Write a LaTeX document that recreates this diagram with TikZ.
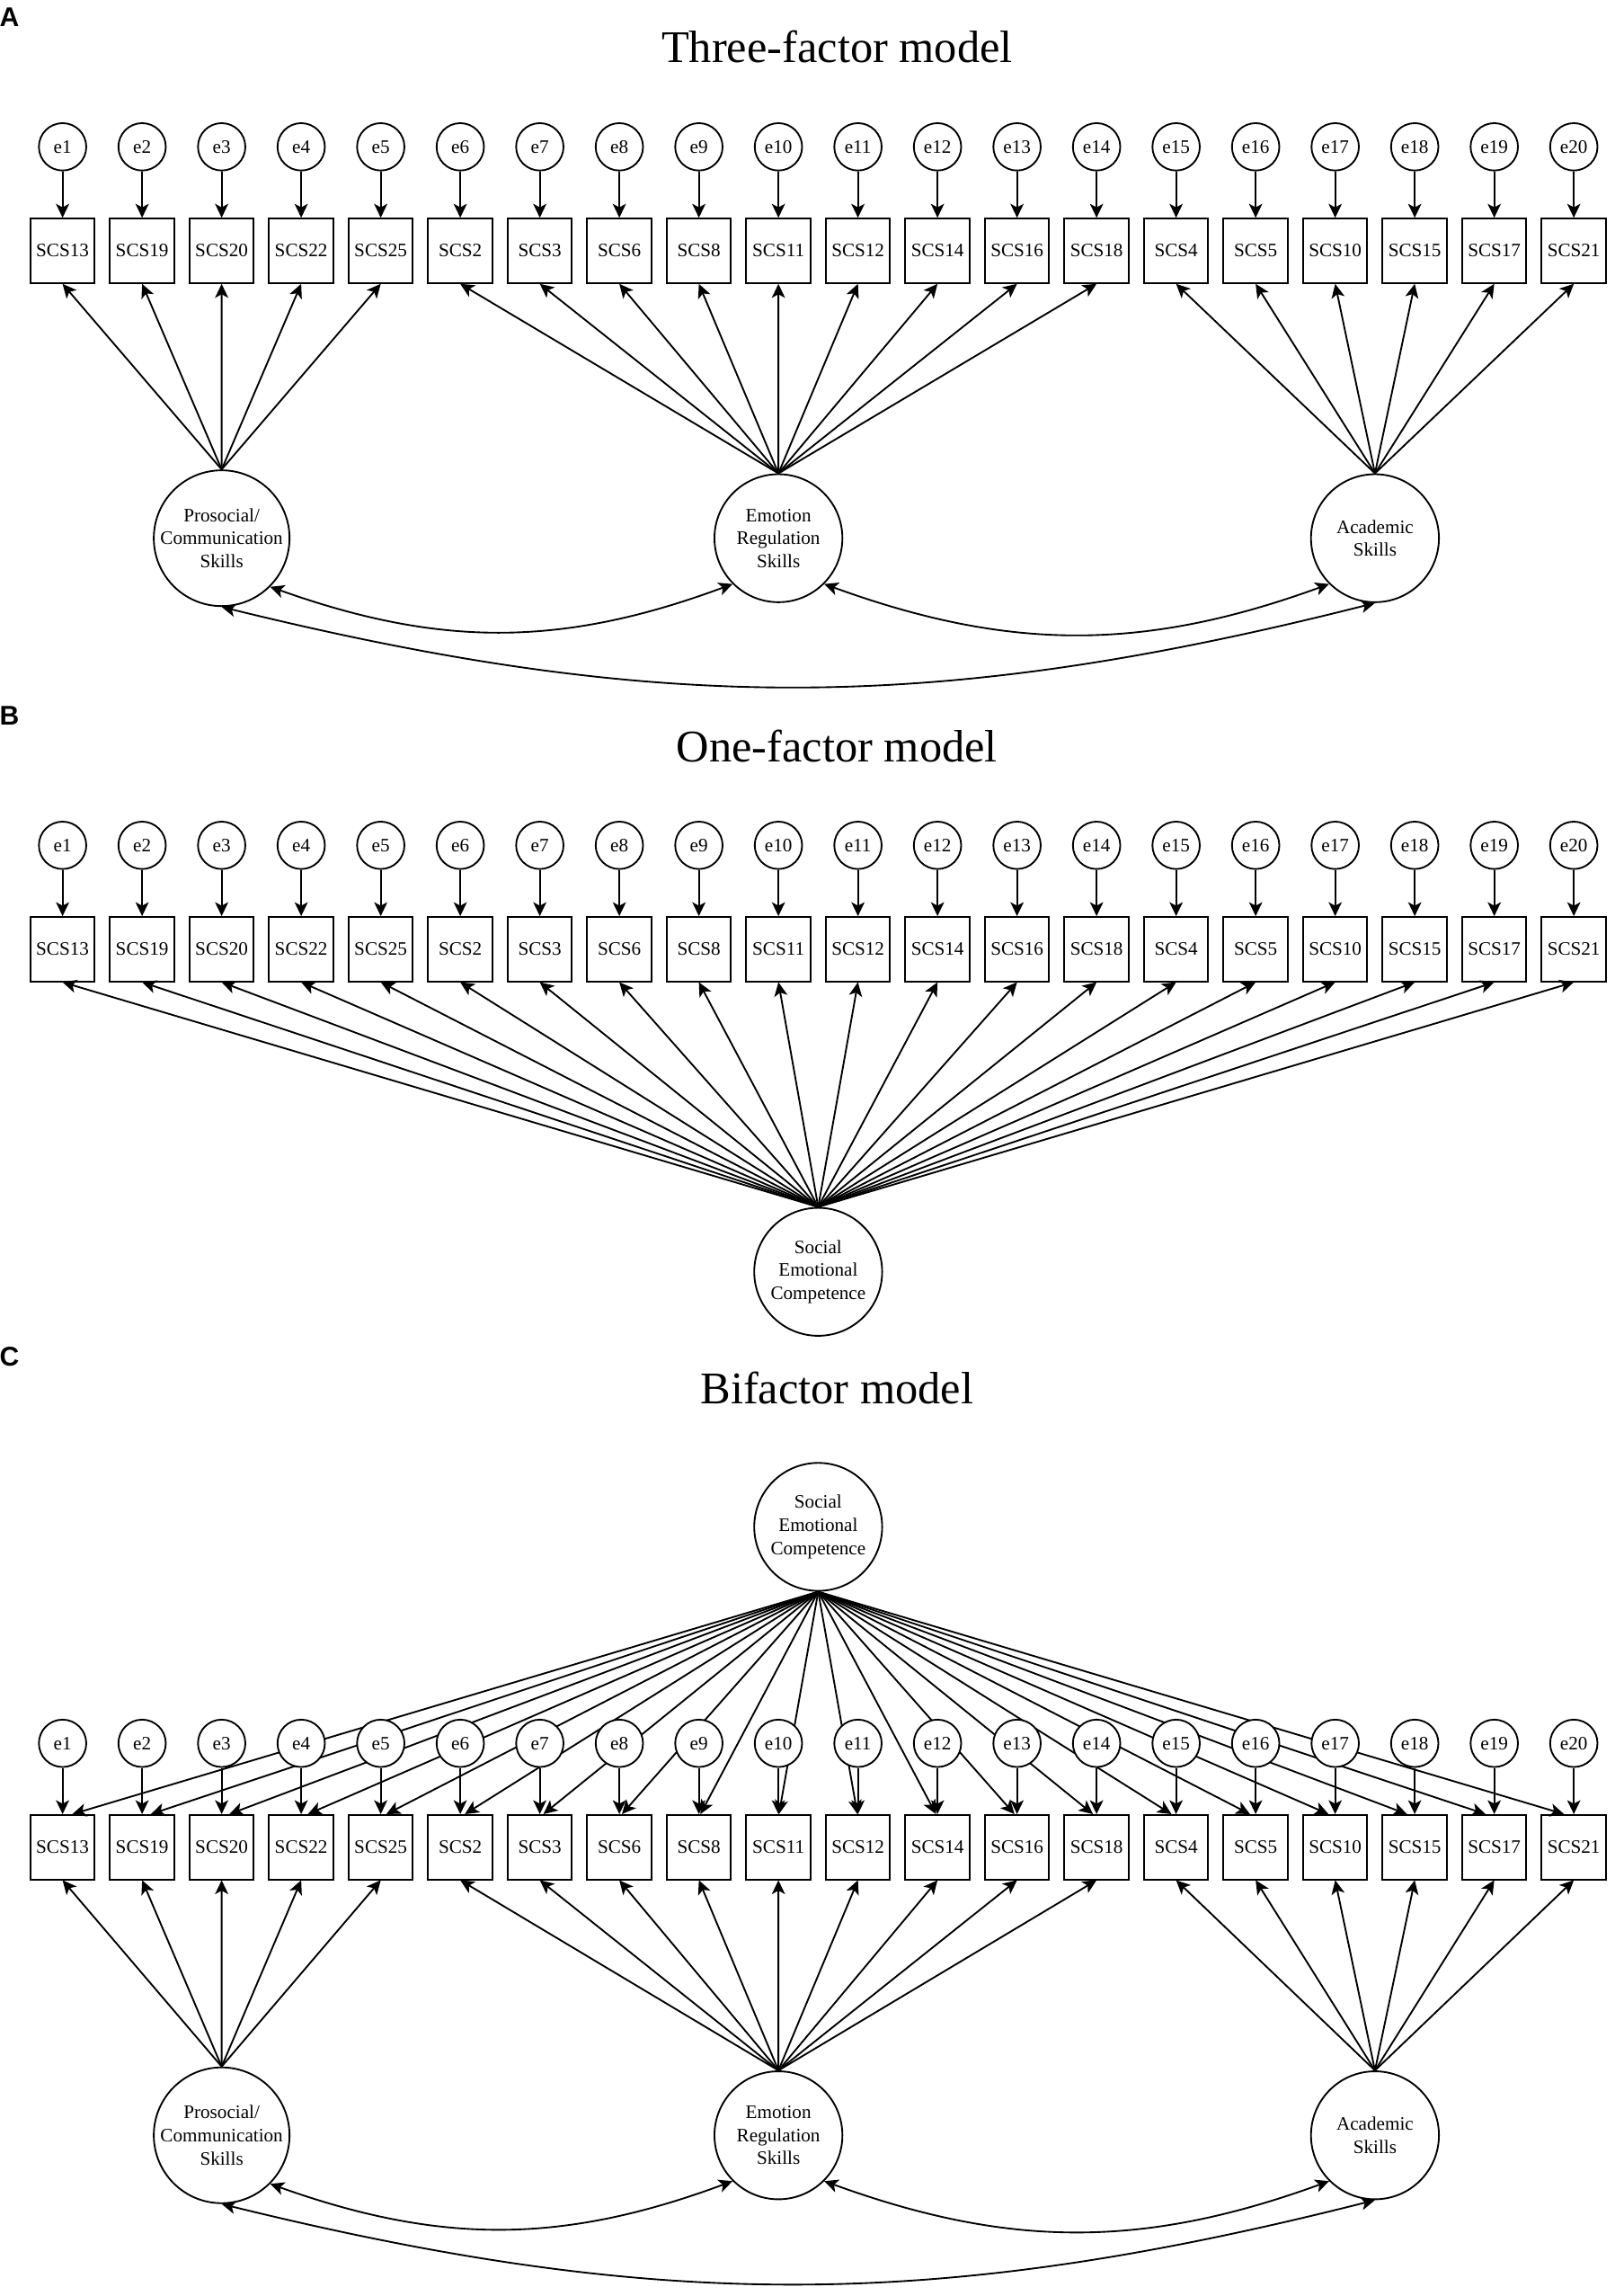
\documentclass[tikz,border=0pt]{standalone}
\usepackage{fontspec}
\setmainfont{Liberation Serif}
\newfontfamily\panelfont{Liberation Sans}
\usetikzlibrary{arrows.meta}

\def\items{13,19,20,22,25,2,3,6,8,11,12,14,16,18,4,5,10,15,17,21}

\begin{document}
\begin{tikzpicture}[
    x=1pt, y=1pt,
    font=\fontsize{13}{15.7}\selectfont,
    indicator/.style={draw, rectangle, minimum size=44pt, inner sep=0pt, line width=1.2pt},
    residual/.style={draw, circle, minimum size=32.4pt, inner sep=0pt, fill=white, line width=1.15pt},
    latent/.style={draw, circle, minimum size=87.5pt, inner sep=0pt, align=center, line width=1.15pt},
    loading/.style={-{Stealth[length=9.5pt, width=9pt, inset=2.4pt]}, line width=1.15pt},
    covar/.style={{Stealth[length=9.5pt, width=9pt, inset=2.4pt]}-{Stealth[length=9.5pt, width=9pt, inset=2.4pt]}, line width=1.15pt},
    heading/.style={font=\fontsize{31}{36}\selectfont, anchor=base, inner sep=0pt},
    panel/.style={font=\panelfont\bfseries\fontsize{18.5}{22}\selectfont, anchor=base west, inner sep=0pt}
  ]
  \useasboundingbox (0,0) rectangle (1104,-1569.9);

  % A: three-factor model
  \node[panel] (a-lab) at (-0.5,-18.4) {A};
  \node[heading] (a-title) at (572.5,-43) {Three-factor model};
  \foreach \n [count=\i, evaluate=\i as \x using 42.8+54.4*(\i-1)] in \items {
    \node[residual] (a-e\i) at (\x,-100.4) {e\i};
    \node[indicator] (a-s\i) at (\x,-171.5) {SCS\n};
    \draw[loading] (a-e\i) -- (a-s\i);
  }
  \node[latent] (a-pro) at (151.6,-368) {Prosocial/\\Communication\\Skills};
  \node[latent] (a-emo) at (532.4,-368) {Emotion\\Regulation\\Skills};
  \node[latent] (a-aca) at (940.4,-368) {Academic\\Skills};
  \foreach \i in {1,...,5} \draw[loading] (a-pro.north) -- (a-s\i.south);
  \foreach \i in {6,...,14} \draw[loading] (a-emo.north) -- (a-s\i.south);
  \foreach \i in {15,...,20} \draw[loading] (a-aca.north) -- (a-s\i.south);
  \draw[covar] (a-pro.-45) to[bend right=20] (a-emo.-135);
  \draw[covar] (a-emo.-45) to[bend right=20] (a-aca.-135);
  \draw[covar] (a-pro.south) to[bend right=14] (a-aca.south);

  % B: one-factor model
  \node[panel] (b-lab) at (-0.5,-496) {B};
  \node[heading] (b-title) at (572.5,-521) {One-factor model};
  \foreach \n [count=\i, evaluate=\i as \x using 42.8+54.4*(\i-1)] in \items {
    \node[residual] (b-e\i) at (\x,-578) {e\i};
    \node[indicator] (b-s\i) at (\x,-649) {SCS\n};
    \draw[loading] (b-e\i) -- (b-s\i);
  }
  \node[latent] (b-sec) at (559.6,-869.6) {Social\\Emotional\\Competence};
  \foreach \i in {1,...,20} \draw[loading] (b-sec.north) -- (b-s\i.south);

  % C: bifactor model
  \node[panel] (c-lab) at (-0.5,-934) {C};
  \node[heading] (c-title) at (572.5,-960) {Bifactor model};
  \node[latent] (c-sec) at (559.6,-1044) {Social\\Emotional\\Competence};
  \foreach \n [count=\i, evaluate=\i as \x using 42.8+54.4*(\i-1)] in \items {
    \node[indicator] (c-s\i) at (\x,-1263) {SCS\n};
    \pgfmathsetmacro\off{-0.013*(\x-559.6)}
    \draw[loading] (c-sec.south) -- ([xshift=\off pt]c-s\i.north);
  }
  \foreach \i [evaluate=\i as \x using 42.8+54.4*(\i-1)] in {1,...,20} {
    \node[residual] (c-e\i) at (\x,-1192) {e\i};
    \draw[loading] (c-e\i) -- (c-s\i);
  }
  \node[latent] (c-pro) at (151.6,-1460) {Prosocial/\\Communication\\Skills};
  \node[latent] (c-emo) at (532.4,-1460) {Emotion\\Regulation\\Skills};
  \node[latent] (c-aca) at (940.4,-1460) {Academic\\Skills};
  \foreach \i in {1,...,5} \draw[loading] (c-pro.north) -- (c-s\i.south);
  \foreach \i in {6,...,14} \draw[loading] (c-emo.north) -- (c-s\i.south);
  \foreach \i in {15,...,20} \draw[loading] (c-aca.north) -- (c-s\i.south);
  \draw[covar] (c-pro.-45) to[bend right=20] (c-emo.-135);
  \draw[covar] (c-emo.-45) to[bend right=20] (c-aca.-135);
  \draw[covar] (c-pro.south) to[bend right=14] (c-aca.south);
\end{tikzpicture}
\end{document}
